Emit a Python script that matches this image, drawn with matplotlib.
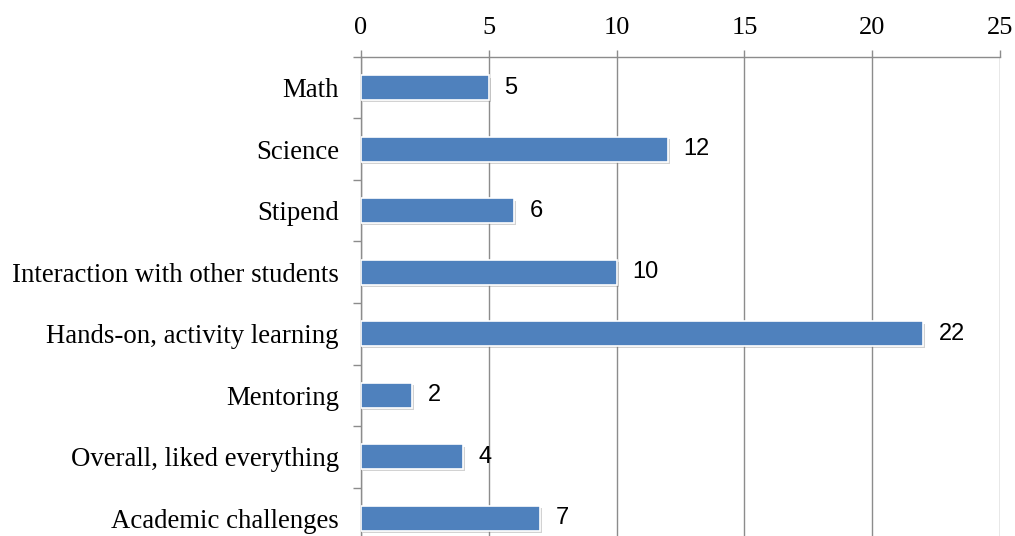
import matplotlib.pyplot as plt
import matplotlib.patheffects as pe
import numpy as np

categories = ["Math", "Science", "Stipend", "Interaction with other students",
              "Hands-on, activity learning", "Mentoring", "Overall, liked everything",
              "Academic challenges"]
values = [5, 12, 6, 10, 22, 2, 4, 7]
xticks = [0, 5, 10, 15, 20, 25]

bar_color = "#4F81BD"
grid_color = "#8C8C8C"

fig = plt.figure(figsize=(10.15, 5.36), dpi=100)
# axes run past the bottom edge, the reference is cropped there
ax = fig.add_axes([0.3557, -0.0243, 0.6295, 0.918])

y = np.arange(len(categories))
bars = ax.barh(y, values, height=0.4, color=bar_color, edgecolor="white",
               linewidth=1.2, zorder=3)
for b in bars:
    b.set_path_effects([pe.SimplePatchShadow(offset=(1.5, -1.5), shadow_rgbFace="gray", alpha=0.35),
                        pe.Normal()])

for yi, v in zip(y, values):
    ax.text(v + 0.6, yi, str(v), va="center", ha="left", fontsize=17,
            family="Liberation Sans", zorder=4)

ax.set_xlim(0, 25)
ax.set_ylim(len(categories) - 0.5, -0.5)
ax.xaxis.tick_top()
ax.set_xticks(xticks)
ax.set_xticklabels([str(t) for t in xticks], family="Liberation Serif", fontsize=19)
ax.tick_params(axis="x", which="major", direction="out", length=5, width=1,
               color=grid_color, pad=8)

ax.set_yticks(y)
ax.set_yticklabels(categories, family="Liberation Serif", fontsize=19.3)
ax.set_yticks(np.arange(len(categories) + 1) - 0.5, minor=True)
ax.tick_params(axis="y", which="major", length=0, pad=16)
ax.tick_params(axis="y", which="minor", direction="out", length=6, width=1, color=grid_color)

ax.grid(axis="x", color=grid_color, linewidth=1, zorder=0)
ax.set_axisbelow(True)
for s in ["right", "bottom"]:
    ax.spines[s].set_visible(False)
for s in ["top", "left"]:
    ax.spines[s].set_color(grid_color)
    ax.spines[s].set_linewidth(1)

fig.savefig("out.png", dpi=100)
